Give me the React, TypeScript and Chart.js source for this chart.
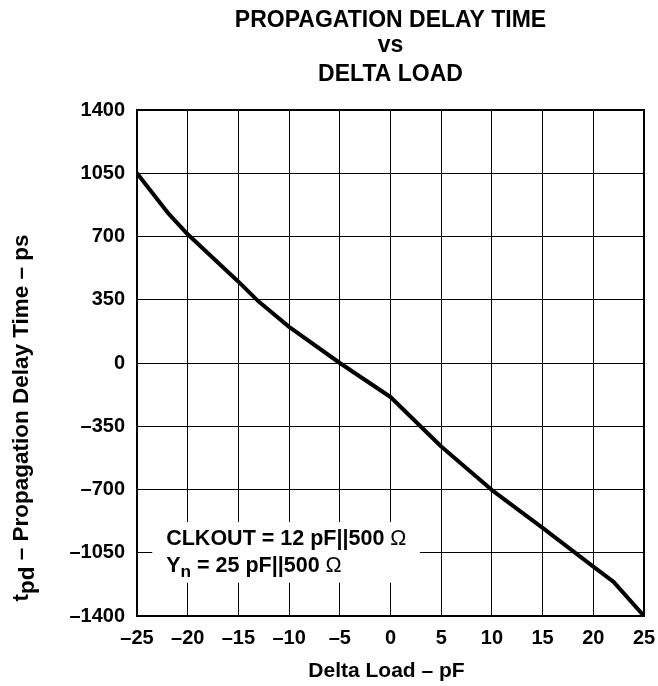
import React, { useEffect, useRef } from "react";
import { Chart, registerables } from "chart.js";

Chart.register(...registerables);

// ---- Data ----
const deltaLoadPf = [-25, -22, -20, -15, -13, -10, -5, 0, 5, 10, 15, 20, 22, 25];
const delayPs = [1050, 834, 712, 450, 340, 200, 0, -188, -462, -703, -912, -1127, -1211, -1400];

const xTickValues = [-25, -20, -15, -10, -5, 0, 5, 10, 15, 20, 25];
const yTickValues = [-1400, -1050, -700, -350, 0, 350, 700, 1050, 1400];

const titleLines = ["PROPAGATION DELAY TIME", "vs", "DELTA LOAD"];
const xAxisTitle = "Delta Load – pF";
const yAxisTitleMain = "t";
const yAxisTitleSub = "pd";
const yAxisTitleRest = " – Propagation Delay Time – ps";
const noteLine1 = "CLKOUT = 12 pF||500 ";
const noteLine2Main = "Y";
const noteLine2Sub = "n";
const noteLine2Rest = " = 25 pF||500 ";
const ohm = "Ω";

const FONT = '"Liberation Sans", Arial, Helvetica, sans-serif';

const fmt = (v: number) => String(v).replace("-", "–");

const decorPlugin = {
  id: "decor",
  beforeDatasetsDraw(chart: any) {
    const ctx = chart.ctx;
    const { left, right, top, bottom } = chart.chartArea;
    const xs = chart.scales.x;
    const ys = chart.scales.y;
    ctx.save();
    // annotation box (white) covering grid
    const bx0 = xs.getPixelForValue(-23.5);
    const bx1 = xs.getPixelForValue(2.9);
    const by0 = ys.getPixelForValue(-880);
    const by1 = ys.getPixelForValue(-1216);
    ctx.fillStyle = "#ffffff";
    ctx.fillRect(bx0, by0, bx1 - bx0, by1 - by0);
    // note text
    ctx.fillStyle = "#000";
    ctx.textBaseline = "alphabetic";
    ctx.textAlign = "left";
    const tx = bx0 + 14;
    const l1 = by0 + 23;
    const l2 = by0 + 50;
    const nf = 21.5;
    ctx.font = `bold ${nf}px ${FONT}`;
    ctx.fillText(noteLine1, tx, l1);
    let w = ctx.measureText(noteLine1).width;
    ctx.font = `${nf}px ${FONT}`;
    ctx.fillText(ohm, tx + w, l1);
    ctx.font = `bold ${nf}px ${FONT}`;
    ctx.fillText(noteLine2Main, tx, l2);
    let x2 = tx + ctx.measureText(noteLine2Main).width;
    ctx.font = `bold ${nf * 0.8}px ${FONT}`;
    ctx.fillText(noteLine2Sub, x2, l2 + 5);
    x2 += ctx.measureText(noteLine2Sub).width;
    ctx.font = `bold ${nf}px ${FONT}`;
    ctx.fillText(noteLine2Rest, x2, l2);
    x2 += ctx.measureText(noteLine2Rest).width;
    ctx.font = `${nf}px ${FONT}`;
    ctx.fillText(ohm, x2, l2);

    // frame
    ctx.strokeStyle = "#000";
    ctx.lineWidth = 2;
    ctx.strokeRect(left, top, right - left, bottom - top);

    // title
    const cx = (left + right) / 2;
    ctx.textAlign = "center";
    ctx.textBaseline = "middle";
    ctx.font = `bold 23px ${FONT}`;
    ctx.fillText(titleLines[0], cx, 21);
    ctx.fillText(titleLines[1], cx, 46);
    ctx.fillText(titleLines[2], cx, 75);

    // x axis title
    ctx.font = `bold 21px ${FONT}`;
    ctx.fillText(xAxisTitle, cx - 4, 671);

    // y axis title (rotated)
    ctx.save();
    ctx.translate(22, 418);
    ctx.rotate(-Math.PI / 2);
    ctx.textAlign = "left";
    ctx.textBaseline = "middle";
    const yf = 22.5;
    ctx.font = `bold ${yf}px ${FONT}`;
    const wMain = ctx.measureText(yAxisTitleMain).width;
    const wRest = ctx.measureText(yAxisTitleRest).width;
    const wSub = ctx.measureText(yAxisTitleSub).width;
    const total = wMain + wSub + wRest;
    let px = -total / 2;
    ctx.fillText(yAxisTitleMain, px, 0);
    px += wMain;
    ctx.fillText(yAxisTitleSub, px, 6);
    px += wSub;
    ctx.fillText(yAxisTitleRest, px, 0);
    ctx.restore();

    ctx.restore();
  },
};

export default function App() {
  const ref = useRef<HTMLCanvasElement | null>(null);
  useEffect(() => {
    if (!ref.current) return;
    const points = deltaLoadPf.map((x, i) => ({ x, y: delayPs[i] }));
    const chart = new Chart(ref.current, {
      type: "line",
      data: {
        datasets: [
          {
            data: points,
            borderColor: "#000",
            borderWidth: 4,
            pointRadius: 0,
            tension: 0,
            fill: false,
            borderJoinStyle: "round",
            borderCapStyle: "round",
          } as any,
        ],
      },
      options: {
        responsive: false,
        animation: false,
        devicePixelRatio: 1,
        layout: { padding: { top: 110, right: 14, left: 0, bottom: 0 } },
        plugins: {
          legend: { display: false },
          title: { display: false },
          tooltip: { enabled: false },
        },
        scales: {
          x: {
            type: "linear",
            min: -25,
            max: 25,
            afterFit: (s: any) => {
              s.height = 70;
              s.paddingLeft = 0;
              s.paddingRight = 0;
            },
            afterBuildTicks: (s: any) => {
              s.ticks = xTickValues.map((v) => ({ value: v }));
            },
            grid: { color: "#000", lineWidth: 1, drawTicks: false },
            border: { display: true, color: "#000", width: 2 },
            ticks: {
              padding: 10,
              color: "#000",
              maxRotation: 0,
              autoSkip: false,
              font: { family: FONT, size: 20, weight: "bold" },
              callback: (v: any) => fmt(Number(v)),
            },
          },
          y: {
            type: "linear",
            min: -1400,
            max: 1400,
            afterFit: (s: any) => {
              s.width = 137;
              s.paddingTop = 0;
              s.paddingBottom = 0;
            },
            afterBuildTicks: (s: any) => {
              s.ticks = yTickValues.map((v) => ({ value: v }));
            },
            grid: { color: "#000", lineWidth: 1, drawTicks: false },
            border: { display: true, color: "#000", width: 2 },
            ticks: {
              padding: 12,
              color: "#000",
              autoSkip: false,
              font: { family: FONT, size: 20, weight: "bold" },
              callback: (v: any) => fmt(Number(v)),
            },
          },
        },
      },
      plugins: [decorPlugin],
    });
    return () => chart.destroy();
  }, []);
  return (
    <div style={{ position: "absolute", left: 0, top: 0, width: 658, height: 686, background: "#fff" }}>
      <canvas ref={ref} width={658} height={686} style={{ width: 658, height: 686, display: "block" }} />
    </div>
  );
}
